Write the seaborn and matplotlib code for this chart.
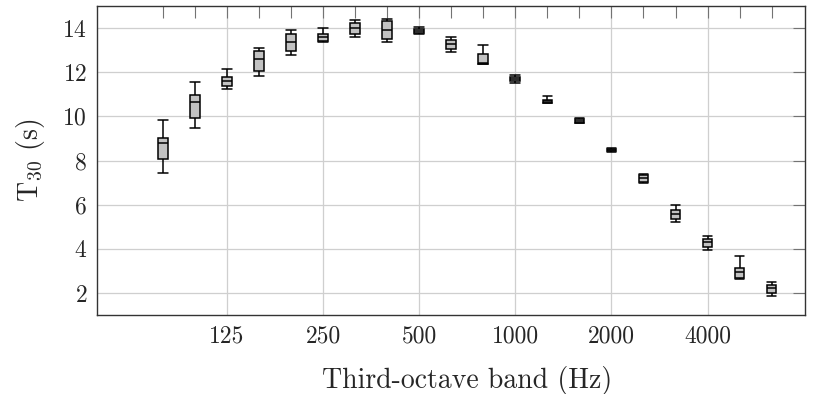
import numpy as np
import pandas as pd
import matplotlib
matplotlib.use("Agg")
import matplotlib.pyplot as plt
import seaborn as sns

# --- data: third-octave bands and T30 box statistics ---
bands = [80, 100, 125, 160, 200, 250, 315, 400, 500, 630,
         800, 1000, 1250, 1600, 2000, 2500, 3150, 4000, 5000, 6300]
whisk_lo = [7.44, 9.47, 11.23, 11.84, 12.78, 13.38, 13.59, 13.38, 13.72, 12.93,
            12.36, 11.50, 10.60, 9.69, 8.39, 6.98, 5.21, 3.97, 2.62, 1.88]
q1 = [8.06, 9.92, 11.36, 12.05, 12.97, 13.42, 13.74, 13.50, 13.76, 13.05,
      12.38, 11.60, 10.61, 9.72, 8.42, 7.02, 5.36, 4.10, 2.70, 2.02]
med = [8.79, 10.63, 11.60, 12.59, 13.35, 13.60, 13.99, 13.92, 13.86, 13.27,
       12.42, 11.69, 10.69, 9.80, 8.48, 7.20, 5.60, 4.30, 2.95, 2.21]
q3 = [9.04, 10.96, 11.79, 12.97, 13.74, 13.75, 14.23, 14.30, 13.94, 13.46,
      12.82, 11.80, 10.76, 9.86, 8.54, 7.33, 5.75, 4.47, 3.15, 2.37]
whisk_hi = [9.84, 11.54, 12.14, 13.09, 13.92, 13.98, 14.38, 14.42, 14.05, 13.58,
            13.24, 11.88, 10.93, 9.92, 8.57, 7.41, 5.99, 4.59, 3.68, 2.52]
major_bands = [125, 250, 500, 1000, 2000, 4000]

# five values per band -> quartiles come out exactly as above
rows = []
for i, b in enumerate(bands):
    for v in (whisk_lo[i], q1[i], med[i], q3[i], whisk_hi[i]):
        rows.append({"band": b, "t30": v})
df = pd.DataFrame(rows)

sns.set_theme(style="whitegrid")
plt.rcParams["font.family"] = ["cmr10", "DejaVu Serif"]
plt.rcParams["mathtext.fontset"] = "cm"
plt.rcParams["axes.formatter.use_mathtext"] = True

fig, ax = plt.subplots(figsize=(8.27, 3.94), dpi=100)
fig.subplots_adjust(left=0.117, right=0.973, top=0.985, bottom=0.2)

box_w = 0.3
sns.boxplot(data=df, x="band", y="t30", order=bands, width=box_w, whis=(0, 100),
            color="#c2c2c2", saturation=1, linecolor="black", linewidth=1.1,
            fliersize=0, ax=ax)

# caps as wide as the boxes
for ln in ax.lines:
    xd, yd = np.asarray(ln.get_xdata(), float), np.asarray(ln.get_ydata(), float)
    if len(xd) == 2 and yd[0] == yd[1]:
        cx = xd.mean()
        ln.set_xdata([cx - box_w / 2, cx + box_w / 2])

ax.set_xlim(-2.06, 20.03)
ax.set_ylim(1, 15)
ax.set_xticks([bands.index(b) for b in major_bands])
ax.set_xticklabels([str(b) for b in major_bands])
ax.set_xticks(range(len(bands)), minor=True)
ax.set_yticks(range(2, 15, 2))

ax.grid(True, which="major", color="#cfcfcf", linewidth=0.9)
ax.grid(False, which="minor")
ax.tick_params(which="both", direction="in", top=True, right=True,
               length=8.5, width=0.8, color="0.45", labelsize=17, pad=7)
for sp in ax.spines.values():
    sp.set_color("#333333")
    sp.set_linewidth(1.0)

ax.set_xlabel("Third-octave band (Hz)", fontsize=20, labelpad=14)
ax.xaxis.label.set_x(0.523)
ax.set_ylabel(r"T$_{30}$ (s)", fontsize=20, labelpad=11)

fig.savefig("out.png", dpi=100)
